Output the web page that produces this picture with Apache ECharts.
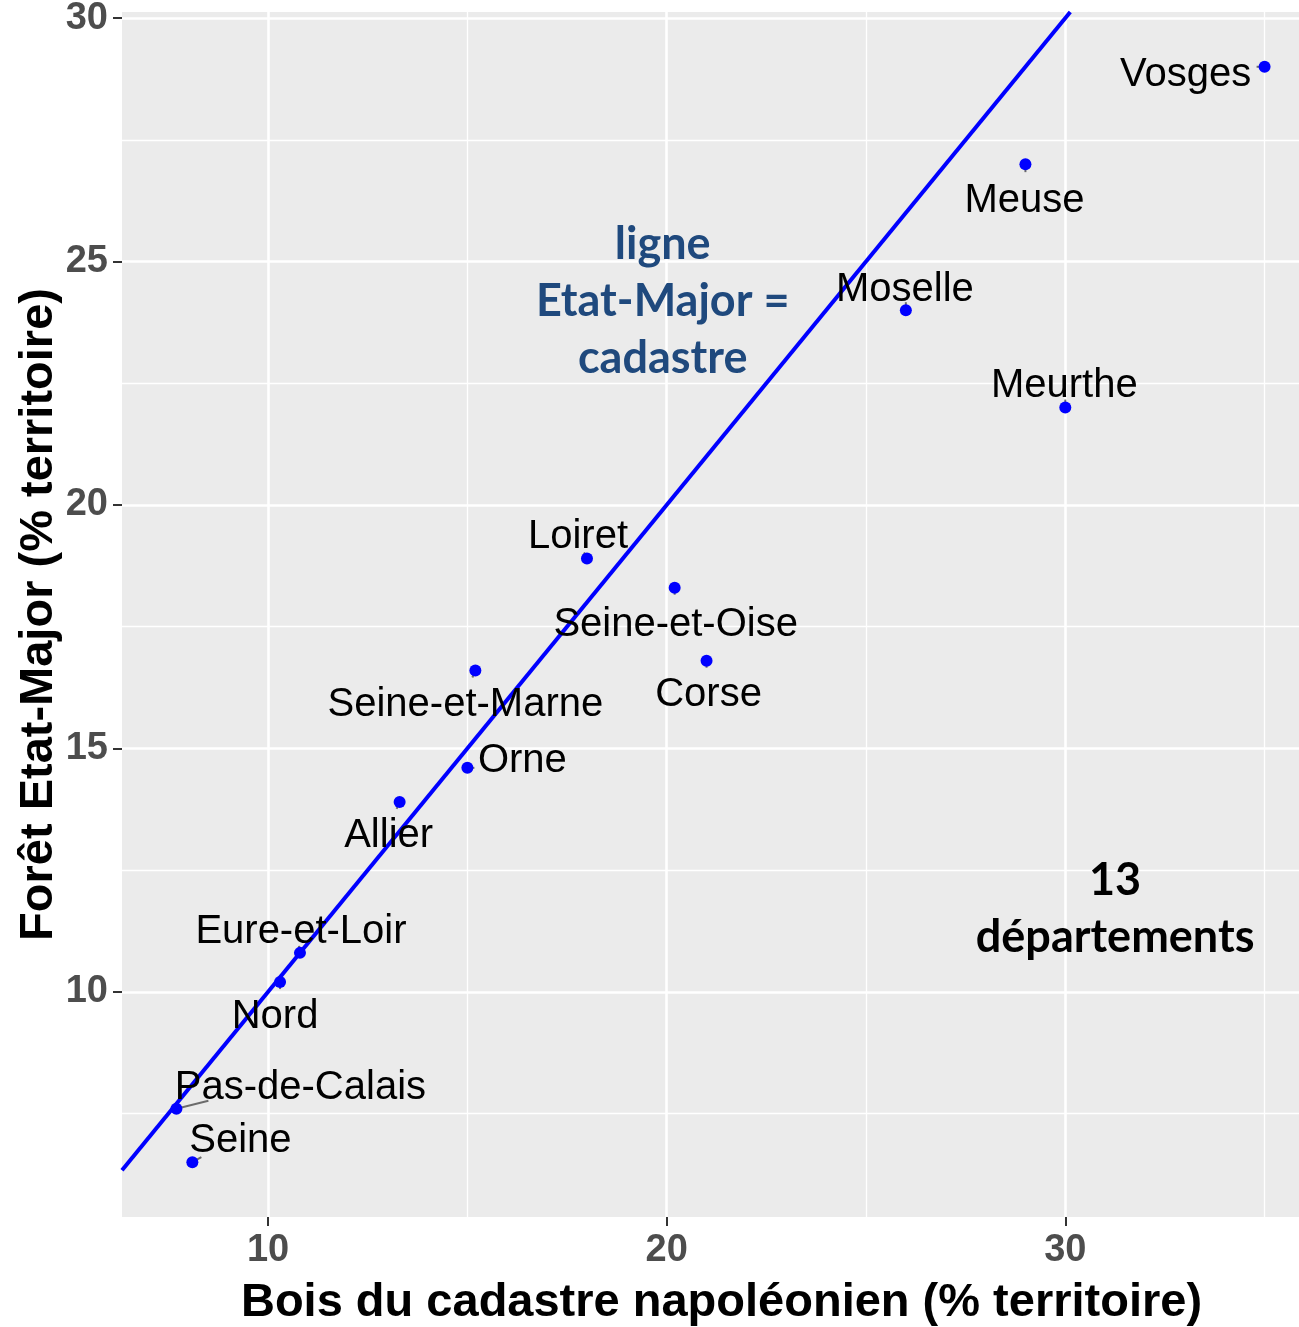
<!DOCTYPE html>
<html>
<head>
<meta charset="utf-8">
<script src="https://cdn.jsdelivr.net/npm/echarts@6/dist/echarts.min.js"></script>
<style>
html,body{margin:0;padding:0;background:#fff;}
#chart{width:1299px;height:1327px;}
</style>
</head>
<body>
<div id="chart"></div>
<script>
// ---- data ----
const departements = ['Vosges','Meuse','Moselle','Meurthe','Loiret','Seine-et-Oise','Corse','Seine-et-Marne','Orne','Allier','Eure-et-Loir','Nord','Pas-de-Calais','Seine'];
const boisCadastre = [35.0, 29.0, 26.0, 30.0, 18.0, 20.2, 21.0, 15.2, 15.0, 13.3, 10.8, 10.3, 7.7, 8.1];
const foretEtatMajor = [29.0, 27.0, 24.0, 22.0, 18.9, 18.3, 16.8, 16.6, 14.6, 13.9, 10.8, 10.2, 7.6, 6.5];
const xTicks = [10, 20, 30];
const xMinorTicks = [15, 25, 35];
const yTicks = [10, 15, 20, 25, 30];
const yMinorTicks = [7.5, 12.5, 17.5, 22.5, 27.5];
const xTitle = 'Bois du cadastre napoléonien (% territoire)';
const yTitle = 'Forêt Etat-Major (% territoire)';
const note1 = 'ligne\nEtat-Major =\ncadastre';
const note2 = '13\ndépartements';

// ---- layout / style (not data) ----
const labelOffsets = {
  'Vosges':[-79,8],'Meuse':[-1,37],'Moselle':[-1,-20],'Meurthe':[-1,-22],
  'Loiret':[-9,-22],'Seine-et-Oise':[1,37],'Corse':[2,34],'Seine-et-Marne':[-10,34],
  'Orne':[55,-7],'Allier':[-11,34],'Eure-et-Loir':[1,-21],'Nord':[-5,35],
  'Pas-de-Calais':[124,-21],'Seine':[48,-21]
};
// short grey connector segments (pixel vectors from the point toward its label)
const guideVectors = {
  'Vosges':[-8,0],'Meuse':[0,8],'Moselle':[0,-8],'Meurthe':[0,-8],'Loiret':[-3,-6],
  'Seine-et-Oise':[0,7],'Corse':[0,7],'Seine-et-Marne':[-3,7],'Orne':[7,0],'Allier':[-3,7],
  'Eure-et-Loir':[-1,-7],'Nord':[0,7],'Pas-de-Calais':[32,-8],'Seine':[9,-5]
};
function expand(arr){const mn=Math.min(...arr),mx=Math.max(...arr),r=mx-mn;return [mn-0.05*r,mx+0.05*r];}
const [xMin,xMaxFull] = expand(boisCadastre);
const [yMin,yMax] = expand(foretEtatMajor);
// the reference panel is cut by the right edge of the picture
const GRID_LEFT = 122, GRID_W_FULL = 1197, GRID_W = 1299 - GRID_LEFT;
const xMax = xMin + (xMaxFull - xMin) * GRID_W / GRID_W_FULL;

const FONT = '"Liberation Sans", Arial, sans-serif';
const NOTE_FONT = 'Lato, "Open Sans", sans-serif';

const pts = departements.map((n,i)=>({
  name:n, value:[boisCadastre[i], foretEtatMajor[i]],
  label:{offset:labelOffsets[n]}
}));
const guideData = departements.map((n,i)=>({name:n, value:[boisCadastre[i], foretEtatMajor[i]]}));

const gridLines = []
  .concat(xTicks.map(v=>({xAxis:v, lineStyle:{width:2.6}})))
  .concat(xMinorTicks.map(v=>({xAxis:v, lineStyle:{width:1.3}})))
  .concat(yTicks.map(v=>({yAxis:v, lineStyle:{width:2.6}})))
  .concat(yMinorTicks.map(v=>({yAxis:v, lineStyle:{width:1.3}})));

const diagLo = Math.max(xMin, yMin), diagHi = Math.min(xMax, yMax);

const chart = echarts.init(document.getElementById('chart'), null, {renderer:'canvas'});
chart.setOption({
  animation:false,
  grid:{left:GRID_LEFT, top:12, width:GRID_W, height:1205, show:true, backgroundColor:'#ebebeb', borderWidth:0,
        containLabel:false, outerBoundsMode:'none'},
  xAxis:{
    type:'value', min:xMin, max:xMax,
    axisLine:{show:false},
    axisTick:{show:true, customValues:xTicks, length:9, lineStyle:{color:'#333', width:2}},
    axisLabel:{customValues:xTicks, color:'#4d4d4d', fontWeight:'bold', fontSize:38, fontFamily:FONT, margin:15},
    splitLine:{show:false},
    name:xTitle, nameLocation:'middle', nameGap:63, nameMoveOverlap:false,
    nameTextStyle:{color:'#000', fontWeight:'bold', fontSize:47, fontFamily:FONT, padding:[0,0,0,22]}
  },
  yAxis:{
    type:'value', min:yMin, max:yMax,
    axisLine:{show:false},
    axisTick:{show:true, customValues:yTicks, length:9, lineStyle:{color:'#333', width:2}},
    axisLabel:{customValues:yTicks, color:'#4d4d4d', fontWeight:'bold', fontSize:38, fontFamily:FONT, margin:14},
    splitLine:{show:false},
    name:yTitle, nameLocation:'middle', nameGap:59, nameRotate:90, nameMoveOverlap:false,
    nameTextStyle:{color:'#000', fontWeight:'bold', fontSize:47, fontFamily:FONT}
  },
  series:[
    {
      type:'line', data:[], silent:true, z:1,
      markLine:{silent:true, z:1, symbol:'none', label:{show:false},
        lineStyle:{color:'#ffffff', type:'solid'}, data:gridLines, animation:false}
    },
    {
      type:'line', z:3, silent:true, symbol:'none',
      data:[[diagLo, diagLo],[diagHi, diagHi]],
      lineStyle:{color:'#0000ff', width:4}
    },
    {
      type:'custom', z:3, silent:true, data:guideData,
      renderItem:function(params, api){
        const p = api.coord([api.value(0), api.value(1)]);
        const v = guideVectors[departements[params.dataIndex]] || [0,0];
        return {type:'line', shape:{x1:p[0], y1:p[1], x2:p[0]+v[0], y2:p[1]+v[1]},
                style:{stroke:'#6b6b6b', lineWidth:2}};
      }
    },
    {
      type:'scatter', z:4, symbol:'circle', symbolSize:12,
      itemStyle:{color:'#0000ff', opacity:1},
      data:pts,
      label:{show:true, position:'inside', formatter:'{b}', color:'#000', fontSize:40, fontFamily:FONT}
    },
    {
      type:'scatter', z:5, symbolSize:0, silent:true,
      itemStyle:{opacity:1},
      data:[{value:[19.9,24.17], label:{formatter:note1, color:'#1f497d', lineHeight:57}},
            {value:[31.25,11.7], label:{formatter:note2, color:'#000', lineHeight:57}}],
      label:{show:true, position:'inside', fontWeight:'bold', fontSize:45, fontFamily:NOTE_FONT, align:'center'}
    }
  ]
});
</script>
</body>
</html>
